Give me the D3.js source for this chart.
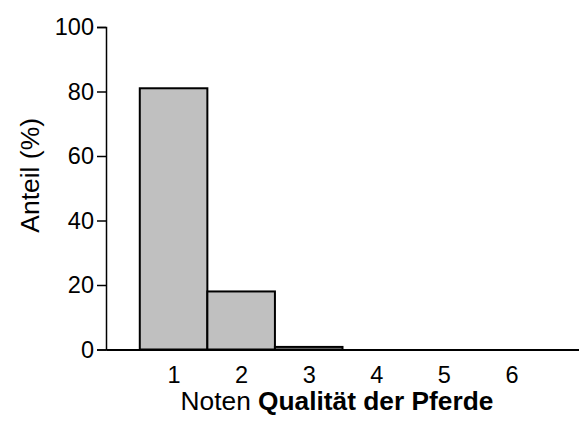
<!DOCTYPE html>
<html><head><meta charset="utf-8">
<script src="https://cdn.jsdelivr.net/npm/d3@7"></script>
<style>body{margin:0;background:#fff}svg{display:block}text{font-family:"Liberation Sans",Arial,sans-serif}</style>
</head><body>
<svg id="c" width="579" height="424"></svg>
<script>
const categories = ["1","2","3","4","5","6"];
const values = [81, 18, 0.8, 0, 0, 0];
const yTicks = [0, 20, 40, 60, 80, 100];

const svg = d3.select("#c");
const x = d3.scaleLinear().domain([0, 7]).range([106, 579]);
const y = d3.scaleLinear().domain([0, 100]).range([349.5, 27]);

// bars
svg.append("g").selectAll("rect").data(values).join("rect")
  .attr("x", (d,i) => x(i + 0.5))
  .attr("width", (d,i) => x(i + 1.5) - x(i + 0.5))
  .attr("y", d => y(d))
  .attr("height", d => y(0) - y(d))
  .attr("fill", "#c0c0c0").attr("stroke", "#000").attr("stroke-width", 2);

// y axis
const ya = svg.append("g").attr("transform", "translate(106,0)")
  .call(d3.axisLeft(y).tickValues(yTicks).tickSize(9).tickPadding(3));
ya.select(".domain").attr("stroke", "#000").attr("stroke-width", 1.5);
ya.selectAll(".tick line").attr("stroke", "#000").attr("stroke-width", 1.5);
ya.selectAll(".tick text").attr("font-size", 23.5).attr("fill", "#000")
  .attr("font-family", "Liberation Sans, Arial, sans-serif");

// x axis
const xa = svg.append("g").attr("transform", `translate(0,${y(0)})`)
  .call(d3.axisBottom(x).tickValues(categories.map((c,i)=>i+1)).tickFormat((d,i)=>categories[i]).tickSize(0).tickPadding(17));
xa.select(".domain").attr("stroke", "#000").attr("stroke-width", 2);
xa.selectAll(".tick text").attr("font-size", 23.5).attr("fill", "#000")
  .attr("font-family", "Liberation Sans, Arial, sans-serif");

// x title
const xt = svg.append("text").attr("x", 337).attr("y", 410).attr("text-anchor", "middle")
  .attr("font-size", 26.3).attr("fill", "#000");
xt.append("tspan").text("Noten ");
xt.append("tspan").attr("font-weight", "bold").text("Qualität der Pferde");

// y title
svg.append("text").attr("transform", `translate(39,${y(54)}) rotate(-90)`)
  .attr("text-anchor", "middle").attr("font-size", 26.5).attr("fill", "#000").text("Anteil (%)");
</script>
</body></html>
